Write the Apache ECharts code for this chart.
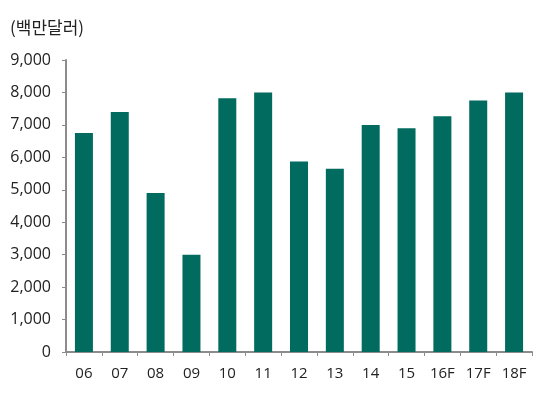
<!DOCTYPE html>
<html><head><meta charset="utf-8">
<script src="https://cdn.jsdelivr.net/npm/echarts@6/dist/echarts.min.js"></script>
<style>html,body{margin:0;padding:0;background:#fff}#c{width:545px;height:393px}</style>
</head><body><div id="c"></div>
<script>
const categories = ['06','07','08','09','10','11','12','13','14','15','16F','17F','18F'];
const values = [6750, 7400, 4900, 3000, 7820, 8000, 5870, 5650, 7000, 6900, 7270, 7750, 8000];
const unitLabel = '(백만달러)';
const chart = echarts.init(document.getElementById('c'));
chart.setOption({
  animation: false,
  textStyle: { fontFamily: '"Open Sans","Noto Sans CJK KR",sans-serif' },
  graphic: [{ type: 'text', left: 10, top: 19, style: { text: unitLabel, fontSize: 17, fill: '#222', fontFamily: '"Noto Sans CJK KR",sans-serif' } }],
  grid: { left: 66, right: 13, top: 60, bottom: 41 },
  xAxis: {
    type: 'category', data: categories, boundaryGap: true,
    axisLine: { lineStyle: { color: '#8c8c8c', width: 2 } },
    axisTick: { show: true, length: 4, lineStyle: { color: '#8c8c8c' } },
    axisLabel: { fontSize: 15, color: '#222', margin: 14 }
  },
  yAxis: {
    type: 'value', min: 0, max: 9000, interval: 1000,
    splitLine: { show: false },
    axisLine: { show: true, lineStyle: { color: '#8c8c8c', width: 2 } },
    axisTick: { show: true, length: 4, lineStyle: { color: '#8c8c8c' } },
    axisLabel: { fontSize: 16, color: '#222', margin: 15, formatter: v => v.toLocaleString('en-US') }
  },
  series: [{ type: 'bar', data: values, barWidth: 18, itemStyle: { color: '#006b5e' } }]
});
</script></body></html>
